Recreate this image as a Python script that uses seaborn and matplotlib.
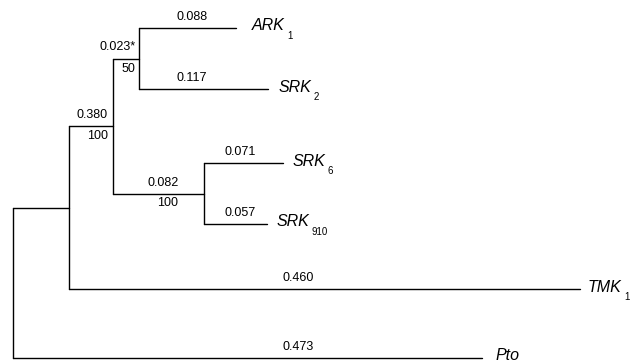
# Phylogenetic tree of receptor-like kinases (ARK, SRK, TMK, Pto)
# drawn as a rectangular cladogram with seaborn line segments

import numpy as np
import pandas as pd
import seaborn as sns
import matplotlib.pyplot as plt


# Tree data ......................................................................................

# nodes and their parents (None = root)
nodes   = ["root", "A", "B", "C", "ARK1", "SRK2", "D", "SRK6", "SRK910", "TMK1", "Pto"]
parents = [None, "root", "A", "B", "C", "C", "B", "D", "D", "A", "root"]

# branch lengths printed on the tree and bootstrap support
branch_labels = ["", "", "0.380", "0.023*", "0.088", "0.117", "0.082", "0.071", "0.057", "0.460", "0.473"]
support       = ["", "", "100", "50", "", "", "100", "", "", "", ""]

# taxon names with subscripts (leaves only)
taxa      = ["ARK1", "SRK2", "SRK6", "SRK910", "TMK1", "Pto"]
taxa_main = ["ARK", "SRK", "SRK", "SRK", "TMK", "Pto"]
taxa_sub  = ["1", "2", "6", "910", "1", ""]


# Layout (pixels) ..........................................................

root_x = 13
# drawn length of every branch (not proportional to the printed values)
drawn_len = [0, 56, 44, 26, 97, 129, 91, 79, 63, 511, 469]
# vertical row of every leaf
leaf_row = [28, 89, 163, 224, 289, 358]
# gap between branch tip and taxon name
name_gap = [16, 11, 10, 10, 8, 13]
# horizontal centre of the branch length labels
label_x = [0, 0, 92, 118, 192, 192, 163, 240, 240, 298, 298]
support_x = [0, 0, 98, 128, 0, 0, 168, 0, 0, 0, 0]


# Compute node positions ..........................................................................
children = {n: [] for n in nodes}
for n, p in zip(nodes, parents):
    if p is not None:
        children[p].append(n)

xpos, ypos = {}, {}
for n, p, L in zip(nodes, parents, drawn_len):
    xpos[n] = root_x if p is None else xpos[p] + L

def node_y(n):
    if n in taxa:
        ypos[n] = leaf_row[taxa.index(n)]
    else:
        ys = [node_y(c) for c in children[n]]
        ypos[n] = (min(ys) + max(ys)) / 2
    return ypos[n]

node_y("root")

# segments: horizontal branch for each child, vertical connector for each inner node
segs = []
k = 0
for n, p in zip(nodes, parents):
    if p is not None:
        segs += [(k, xpos[p], ypos[n]), (k, xpos[n], ypos[n])]
        k += 1
    if children[n]:
        ys = [ypos[c] for c in children[n]]
        segs += [(k, xpos[n], min(ys)), (k, xpos[n], max(ys))]
        k += 1
df = pd.DataFrame(segs, columns = ["seg", "x", "y"])


# Plot ............................................................................................
sns.set_style("white")
plt.rcParams['font.family'] = ['Liberation Sans', 'DejaVu Sans']

fig = plt.figure(figsize = (6.31, 3.62), dpi = 100)
ax = fig.add_axes([0, 0, 1, 1])
sns.lineplot(data = df, x = "x", y = "y", units = "seg", estimator = None, sort = False,
             color = "black", linewidth = 1.0, ax = ax)

# branch lengths above, support below
for i, n in enumerate(nodes):
    if branch_labels[i]:
        ax.text(label_x[i], ypos[n] - 11, branch_labels[i], ha = "center", va = "center",
                fontsize = 9, color = "black")
    if support[i]:
        ax.text(support_x[i], ypos[n] + 10, support[i], ha = "center", va = "center",
                fontsize = 9, color = "black")

# taxon labels with subscripts
for t, main, sub, gap in zip(taxa, taxa_main, taxa_sub, name_gap):
    txt = ax.text(xpos[t] + gap, ypos[t] - 2, main, ha = "left", va = "center",
                  fontsize = 11.5, style = "italic", color = "black")
    if sub:
        ax.annotate(sub, xy = (1, 0.5), xycoords = txt, xytext = (1.5, -7),
                    textcoords = "offset points", ha = "left", va = "center",
                    fontsize = 7, color = "black")

ax.set_xlim(0, 631)
ax.set_ylim(362, 0)
ax.axis("off")
plt.savefig("out.png", dpi = 100)
